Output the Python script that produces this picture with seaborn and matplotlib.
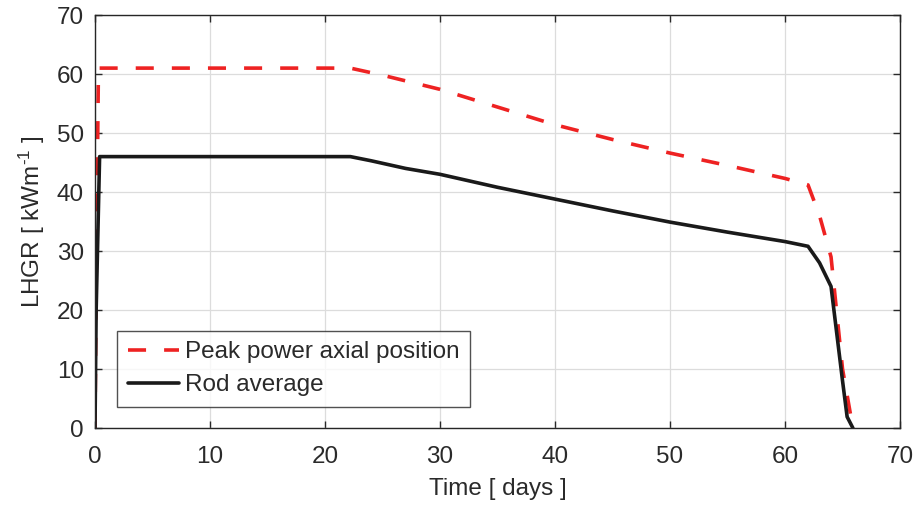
import matplotlib
matplotlib.use("Agg")
import matplotlib.pyplot as plt
import seaborn as sns
import pandas as pd

peak_t = [0.0, 0.1, 0.3, 22.2, 25.0, 30.0, 35.0, 40.0, 45.0, 50.0, 55.0, 60.0, 62.0, 63.0, 64.0, 65.0, 65.9]
peak_v = [0.0, 25.0, 61.0, 61.0, 59.8, 57.4, 54.4, 51.4, 48.9, 46.6, 44.5, 42.3, 41.2, 36.0, 29.0, 10.0, 0.0]
avg_t = [0.0, 0.1, 0.4, 22.2, 24.0, 27.0, 30.0, 35.0, 40.0, 45.0, 50.0, 55.0, 60.0, 62.0, 63.0, 64.0, 65.0, 65.4, 65.9]
avg_v = [0.0, 20.0, 46.0, 46.0, 45.3, 44.0, 43.0, 40.8, 38.8, 36.8, 34.9, 33.2, 31.6, 30.8, 28.0, 24.0, 8.0, 1.9, 0.0]

series_names = ["Peak power axial position", "Rod average"]

sns.set_theme(style="white")
plt.rcParams['font.family'] = ['Liberation Sans', 'DejaVu Sans']
plt.rcParams['mathtext.fontset'] = 'custom'
plt.rcParams['mathtext.rm'] = 'Liberation Sans'
plt.rcParams['mathtext.it'] = 'Liberation Sans'
plt.rcParams['mathtext.default'] = 'regular'

FS = 17.5
TXT = "#2a2a2a"
fig = plt.figure(figsize=(9.17, 5.12), dpi=100)
ax = fig.add_axes([0.1036, 0.164, 0.8779, 0.8067])

df_peak = pd.DataFrame({"t": peak_t, "v": peak_v})
df_avg = pd.DataFrame({"t": avg_t, "v": avg_v})
sns.lineplot(data=df_peak, x="t", y="v", ax=ax, color="#ee2222", lw=2.6,
             sort=False, label=series_names[0], linestyle=(0, (5, 5)))
sns.lineplot(data=df_avg, x="t", y="v", ax=ax, color="#1a1a1a", lw=2.6,
             sort=False, label=series_names[1])

ax.set_xlim(0, 70)
ax.set_ylim(0, 70)
ax.set_xticks(range(0, 71, 10))
ax.set_yticks(range(0, 71, 10))
ax.grid(True, color="#dcdcdc", lw=0.9)
ax.tick_params(direction="in", length=5, width=1, labelsize=FS, colors=TXT,
               top=True, right=True, bottom=True, left=True)
ax.tick_params(axis="x", pad=13)
ax.tick_params(axis="y", pad=8)
for s in ax.spines.values():
    s.set_color("#262626")
    s.set_linewidth(1.0)
ax.set_xlabel("Time [ days ]", fontsize=FS, color=TXT, labelpad=7)
ax.set_ylabel("LHGR [ kWm$^{\\text{-1}}$ ]", fontsize=FS, color=TXT, labelpad=7)

leg = ax.legend(loc="lower left", bbox_to_anchor=(0.027, 0.05), fontsize=FS,
                frameon=True, fancybox=False, edgecolor="#262626",
                handlelength=2.1, handletextpad=0.25, borderpad=0.45, labelspacing=0.45,
                borderaxespad=0.0)
leg.get_frame().set_linewidth(1.0)
for t in leg.get_texts():
    t.set_color(TXT)

fig.savefig("out.png", dpi=100)
